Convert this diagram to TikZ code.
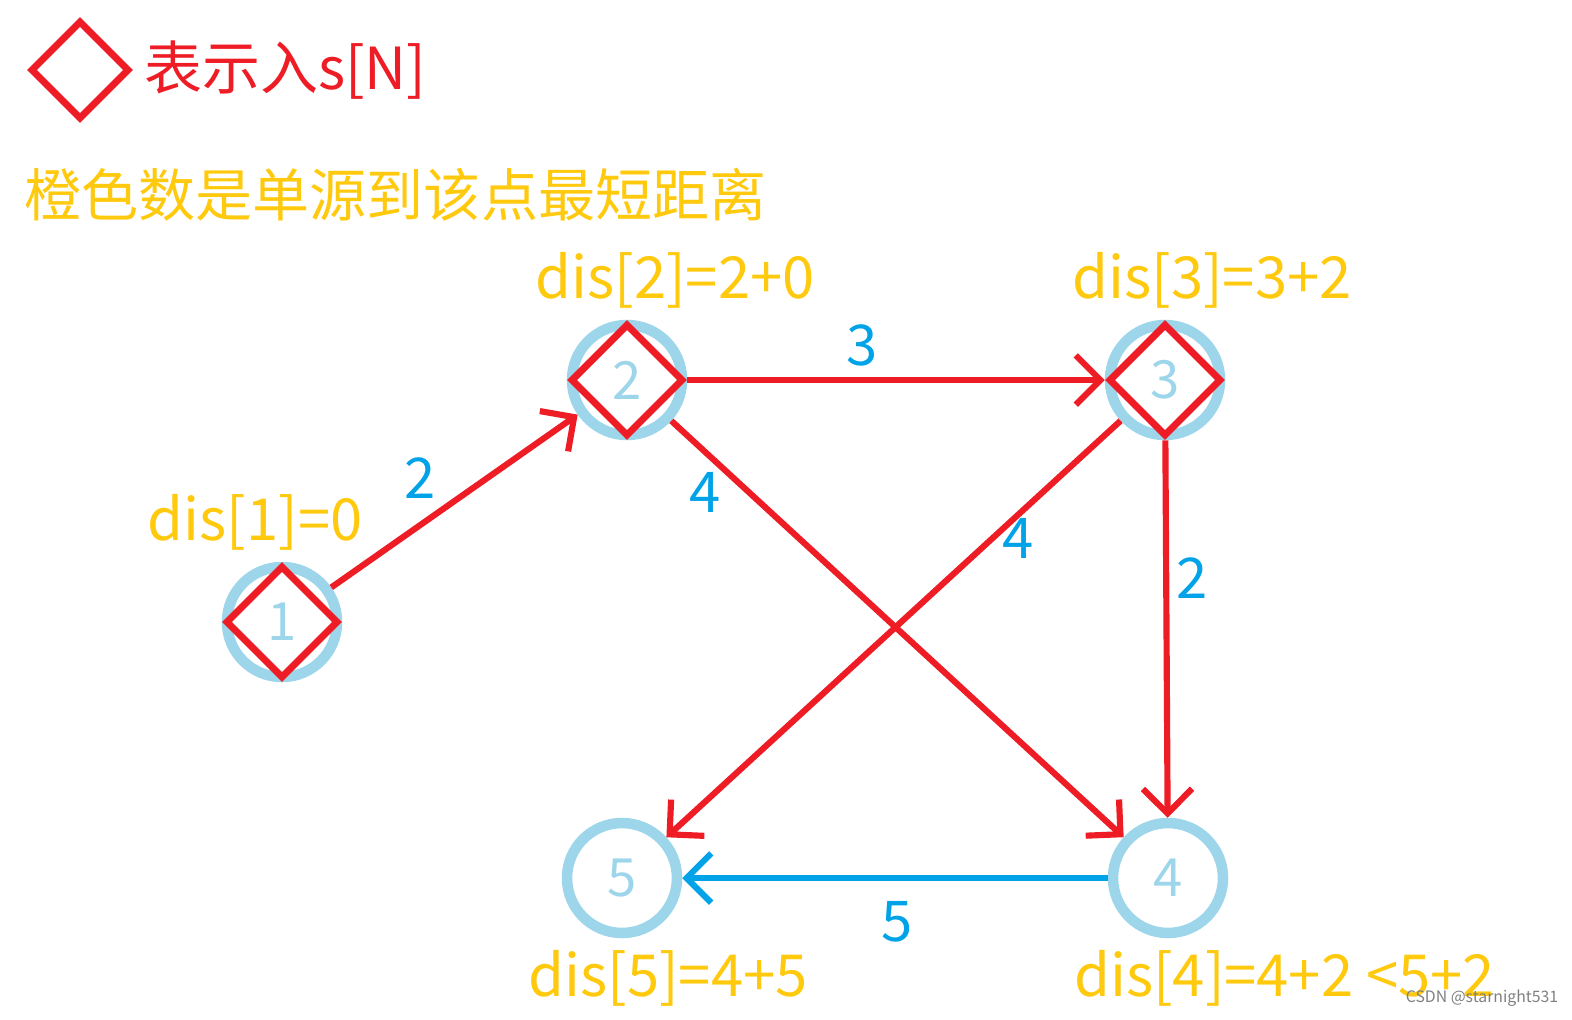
\documentclass[tikz,border=0pt]{standalone}
\usepackage{fontspec}
\setmainfont{Noto Sans CJK SC}
\usetikzlibrary{arrows.meta,shapes.geometric}
\definecolor{ringblue}{HTML}{9DD6EA}
\definecolor{edgered}{HTML}{EE1C25}
\definecolor{wblue}{HTML}{00A2E8}
\definecolor{disorange}{HTML}{FFC90E}
\tikzset{
  ring/.style={circle,draw=ringblue,line width=6pt,minimum size=2.2cm,text=ringblue,font=\fontsize{30}{32}\selectfont,inner sep=0pt},
  inmarkline/.style={draw=edgered,line width=4pt},
  redge/.style={draw=edgered,line width=3.5pt,-{Straight Barb[length=14pt,width=28pt,line width=3.5pt]}},
  bedge/.style={draw=wblue,line width=3.5pt,-{Straight Barb[length=14pt,width=28pt,line width=3.5pt]}},
  wlabel/.style={text=wblue,font=\fontsize{32}{34}\selectfont},
  dislabel/.style={text=disorange,font=\fontsize{33}{35}\selectfont},
}
\newcommand{\inmark}[1]{\draw[inmarkline] (#1.center) ++(-1.1cm,0) -- ++(1.1cm,1.1cm) -- ++(1.1cm,-1.1cm) -- ++(-1.1cm,-1.1cm) -- cycle;}
\begin{document}
\begin{tikzpicture}[x=0.02cm,y=-0.02cm]
  \useasboundingbox (0,0) rectangle (1572,1019);
  % legend
  \draw[inmarkline] (32,70) -- (80,22) -- (128,70) -- (80,118) -- cycle;
  \node[anchor=west,text=edgered,font=\fontsize{33}{35}\selectfont] (legend) at (138,70) {表示入s[N]};
  \node[anchor=west,text=disorange,font=\fontsize{32.5}{35}\selectfont] (note) at (18,195) {橙色数是单源到该点最短距离};
  % vertices
  \node[ring] (n1) at (282,622) {1};
  \node[ring] (n2) at (627,380) {2};
  \node[ring] (n3) at (1165,380) {3};
  \node[ring] (n4) at (1168,878) {4};
  \node[ring] (n5) at (622,878) {5};
  \inmark{n1} \inmark{n2} \inmark{n3}
  % edges
  \draw[redge] (n1) -- (n2);
  \draw[redge] (n2) -- (n3);
  \draw[redge] (n2) -- (n4);
  \draw[redge] (n3) -- (n5);
  \draw[redge] (n3) -- (n4);
  \draw[bedge] (n4) -- (n5);
  % weights
  \node[wlabel] (w12) at (420,478) {2};
  \node[wlabel] (w23) at (862,345) {3};
  \node[wlabel] (w24) at (705,492) {4};
  \node[wlabel] (w35) at (1018,538) {4};
  \node[wlabel] (w34) at (1192,578) {2};
  \node[wlabel] (w45) at (897,922) {5};
  % distances
  \node[dislabel] (d1) at (255,522) {dis[1]=0};
  \node[dislabel] (d2) at (675,280) {dis[2]=2+0};
  \node[dislabel] (d3) at (1212,280) {dis[3]=3+2};
  \node[dislabel] (d5) at (668,978) {dis[5]=4+5};
  \node[dislabel,anchor=west] (d4) at (1068,978) {dis[4]=4+2 <5+2};
  \node[text=gray,font=\fontsize{9}{10}\selectfont] (wmark) at (1482,998) {CSDN @starnight531};
\end{tikzpicture}
\end{document}
